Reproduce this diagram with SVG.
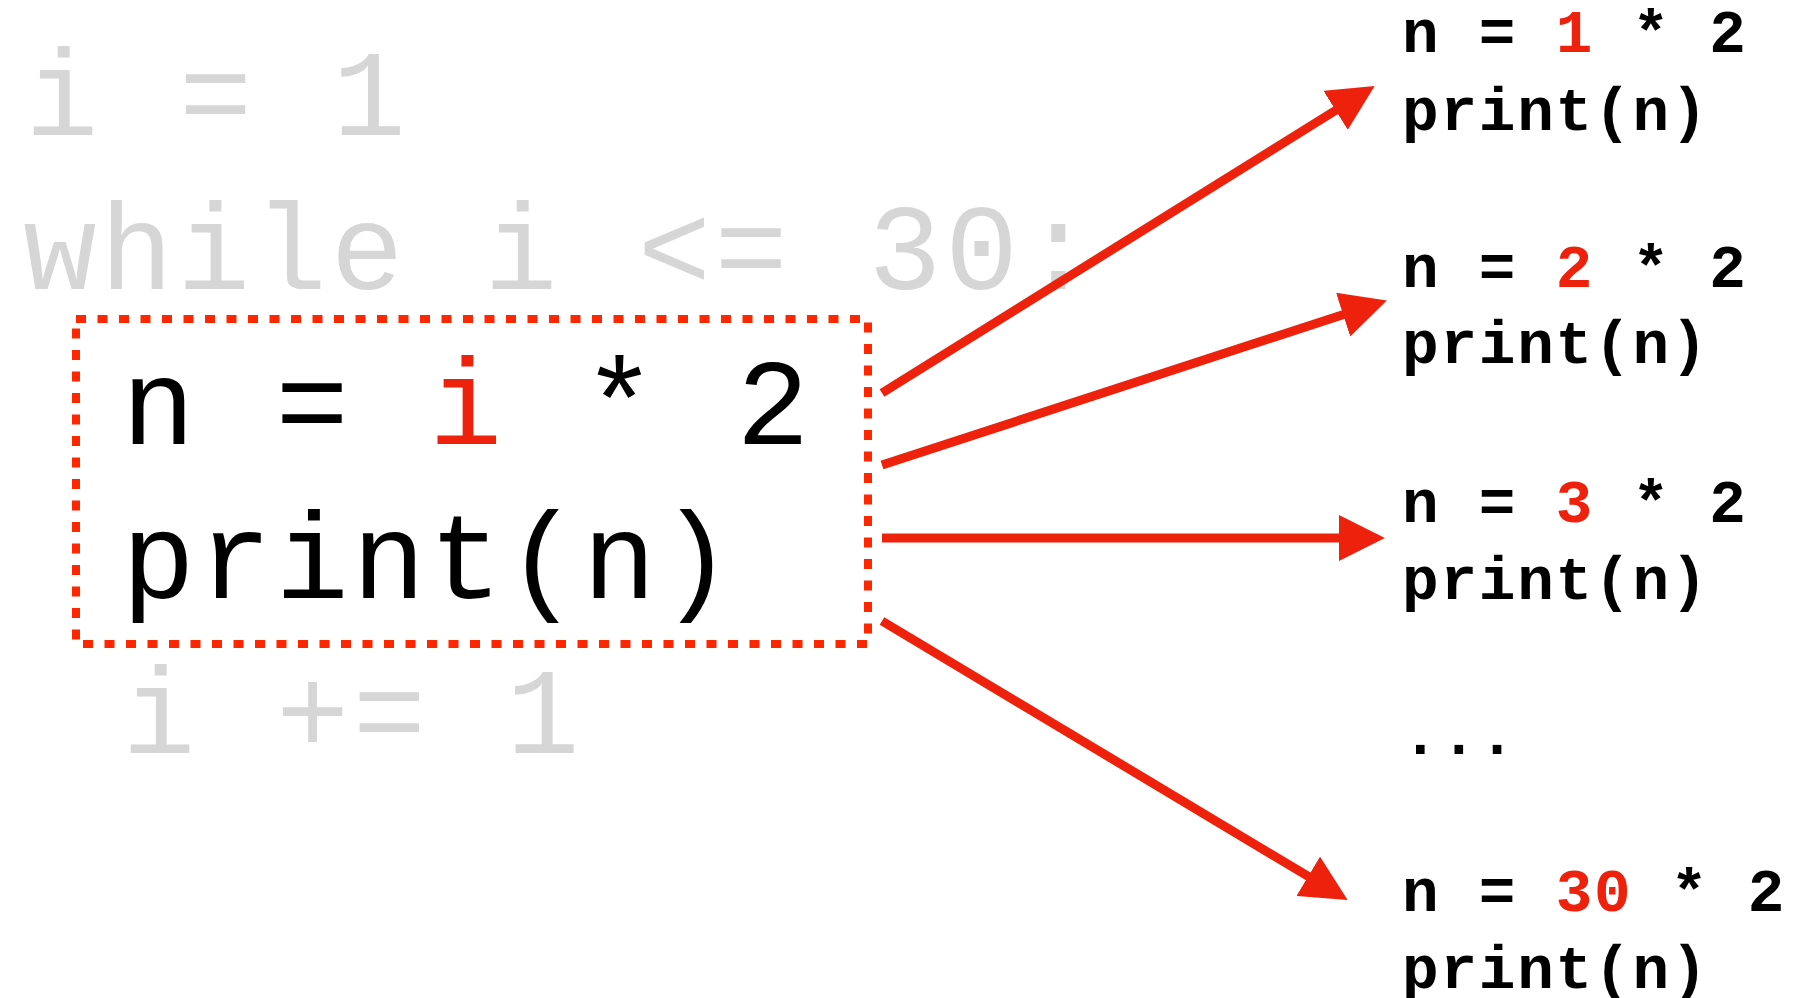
<svg xmlns="http://www.w3.org/2000/svg" width="1814" height="998" viewBox="0 0 1814 998">
<style>
  .big { font-family: "Liberation Mono", "DejaVu Sans Mono", monospace; font-size: 122px; letter-spacing: 3.6px; white-space: pre; }
  .gray { fill: #D6D6D6; }
  .blk { fill: #000000; }
  .red { fill: #EE220C; }
  .small { font-family: "Liberation Mono", "DejaVu Sans Mono", monospace; font-size: 61px; letter-spacing: 1.8px; font-weight: bold; fill: #000000; white-space: pre; }
  .arrow { stroke: #EE220C; stroke-width: 9; fill: none; marker-end: url(#head); }
  .dots { fill: none; stroke: #FF2600; stroke-width: 8; stroke-dasharray: 10 11.5; }
</style>
<defs>
  <marker id="head" markerUnits="userSpaceOnUse" markerWidth="46" markerHeight="46" refX="2" refY="22" orient="auto" viewBox="0 0 44 44">
    <path d="M0,0 L44,22 L0,44 z" fill="#EE220C"/>
  </marker>
</defs>
<rect width="1814" height="998" fill="#FFFFFF"/>

<g id="loop-code">
  <text class="big gray" x="25.3" y="135">i = 1</text>
  <text class="big gray" x="23.3" y="289">while i &lt;= 30:</text>
  <text class="big gray" x="122.3" y="753">i += 1</text>
</g>

<g id="loop-body">
  <rect class="dots" x="76" y="319" width="792" height="325"/>
  <text class="big blk" x="121.8" y="444">n = <tspan class="red">i</tspan> * 2</text>
  <text class="big blk" x="121.8" y="598">print(n)</text>
</g>

<g id="connectors">
  <line class="arrow" x1="882" y1="393" x2="1337.4" y2="109.2"/>
  <line class="arrow" x1="882" y1="465" x2="1345.1" y2="314"/>
  <line class="arrow" x1="882" y1="538" x2="1341" y2="538"/>
  <line class="arrow" x1="882" y1="621" x2="1310" y2="877.4"/>
</g>

<g id="iter-1">
  <text class="small" x="1402" y="52">n = <tspan class="red">1</tspan> * 2</text>
  <text class="small" x="1402" y="129.5">print(n)</text>
</g>
<g id="iter-2">
  <text class="small" x="1402" y="287">n = <tspan class="red">2</tspan> * 2</text>
  <text class="small" x="1402" y="363">print(n)</text>
</g>
<g id="iter-3">
  <text class="small" x="1402" y="521.5">n = <tspan class="red">3</tspan> * 2</text>
  <text class="small" x="1402" y="599">print(n)</text>
</g>
<g id="ellipsis">
  <text class="small" x="1402" y="754">...</text>
</g>
<g id="iter-30">
  <text class="small" x="1402" y="910.5">n = <tspan class="red">30</tspan> * 2</text>
  <text class="small" x="1402" y="988">print(n)</text>
</g>
</svg>
